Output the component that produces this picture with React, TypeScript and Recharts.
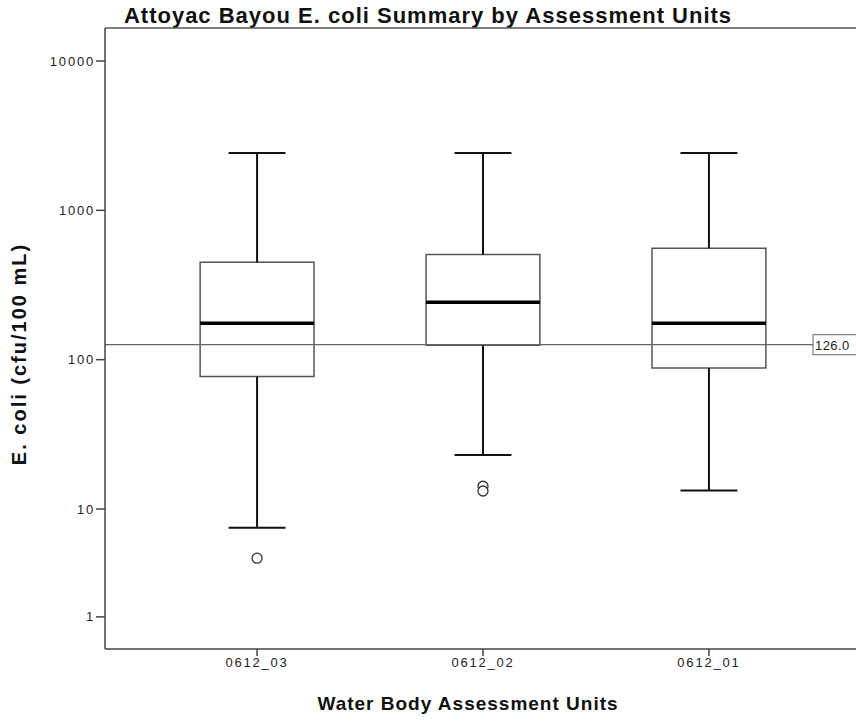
import {
  ComposedChart,
  XAxis,
  YAxis,
  Scatter,
  ReferenceArea,
  ReferenceLine,
} from "recharts";

const categories = ["0612_03", "0612_02", "0612_01"];
const maxVals = [2420, 2420, 2420];
const q3Vals = [449, 507, 557];
const medianVals = [175, 242, 175];
const q1Vals = [77, 125, 88];
const minVals = [6.7, 23, 13.3];
const outlierVals = [[3.5], [14.2, 13.2], []];
const criterion = 126;
const yTickValues = [1, 10, 100, 1000, 10000];

// SPSS safe-log axis: the lowest decade (1..10) is drawn compressed
const LOW_DECADE = 0.7224;
const toAxis = (v: number) =>
  v >= 10 ? Math.log10(v) : 1 - LOW_DECADE * (1 - Math.log10(v));

const yTicks = yTickValues.map(toAxis);
const tickLabel = (t: number) => {
  const i = yTicks.findIndex((y) => Math.abs(y - t) < 1e-6);
  return i >= 0 ? String(yTickValues[i]) : "";
};

const boxes = categories.map((name, i) => ({
  x: i + 1,
  name,
  max: toAxis(maxVals[i]),
  q3: toAxis(q3Vals[i]),
  med: toAxis(medianVals[i]),
  q1: toAxis(q1Vals[i]),
  min: toAxis(minVals[i]),
}));

const outliers = outlierVals.flatMap((vals, i) =>
  vals.map((v) => ({ x: i + 1, y: toAxis(v) }))
);

const BOX_HALF = 0.252;
const CAP_HALF = 0.126;
const FONT = "Arial, 'Liberation Sans', sans-serif";
const tickStyle = { fontSize: 13, fill: "#222", fontFamily: FONT, letterSpacing: 1.8 };

function CriterionLabel(props: any) {
  const { viewBox } = props;
  const x = viewBox.x + viewBox.width - 48;
  const y = viewBox.y;
  return (
    <g>
      <rect x={x} y={y - 10} width={60} height={20} fill="#fff" stroke="#666" />
      <text
        x={x + 2}
        y={y + 5}
        fontSize={13}
        fontFamily={FONT}
        letterSpacing={0.4}
        fill="#222"
      >
        {criterion.toFixed(1)}
      </text>
    </g>
  );
}

function Outlier(props: any) {
  const { cx, cy } = props;
  return <circle cx={cx} cy={cy} r={5} fill="#fff" stroke="#333" strokeWidth={1.3} />;
}

export default function App() {
  return (
    <div
      style={{
        position: "absolute",
        left: 0,
        top: 0,
        width: 856,
        height: 723,
        overflow: "hidden",
        background: "#fff",
        fontFamily: FONT,
      }}
    >
      <div
        style={{
          position: "absolute",
          left: 0,
          top: 3,
          width: 856,
          textAlign: "center",
          fontSize: 22,
          fontWeight: "bold",
          letterSpacing: 1,
          color: "#111",
        }}
      >
        Attoyac Bayou E. coli Summary by Assessment Units
      </div>
      <div
        style={{
          position: "absolute",
          left: 268,
          top: 693,
          width: 400,
          textAlign: "center",
          fontSize: 19,
          fontWeight: "bold",
          letterSpacing: 1,
          color: "#111",
        }}
      >
        Water Body Assessment Units
      </div>
      <div
        style={{
          position: "absolute",
          left: 19,
          top: 354,
          transform: "translate(-50%, -50%) rotate(-90deg)",
          whiteSpace: "nowrap",
          fontSize: 20,
          fontWeight: "bold",
          letterSpacing: 2,
          color: "#111",
        }}
      >
        E. coli (cfu/100 mL)
      </div>
      <ComposedChart
        width={880}
        height={723}
        margin={{ top: 28, right: 19, bottom: 0, left: 45 }}
        style={{ position: "absolute", left: 0, top: 0 }}
      >
        <XAxis
          type="number"
          dataKey="x"
          domain={[0.327, 3.673]}
          ticks={[1, 2, 3]}
          tickFormatter={(v: number) => categories[v - 1] ?? ""}
          allowDataOverflow
          height={74}
          tickSize={7}
          tick={tickStyle}
          axisLine={{ stroke: "#444", strokeWidth: 1.5 }}
          tickLine={{ stroke: "#444", strokeWidth: 1.5 }}
        />
        <YAxis
          type="number"
          dataKey="y"
          domain={[0.0625, 4.221]}
          ticks={yTicks}
          tickFormatter={tickLabel}
          allowDataOverflow
          width={60}
          tickSize={9}
          tickMargin={1}
          tick={tickStyle}
          axisLine={{ stroke: "#444", strokeWidth: 1.5 }}
          tickLine={{ stroke: "#444", strokeWidth: 1.5 }}
        />
        <ReferenceLine y={4.221} stroke="#555" strokeWidth={1.5} ifOverflow="visible" />
        {boxes.map((b) => (
          <ReferenceLine
            key={`wu${b.x}`}
            segment={[{ x: b.x, y: b.q3 }, { x: b.x, y: b.max }]}
            stroke="#111"
            strokeWidth={2}
          />
        ))}
        {boxes.map((b) => (
          <ReferenceLine
            key={`wl${b.x}`}
            segment={[{ x: b.x, y: b.min }, { x: b.x, y: b.q1 }]}
            stroke="#111"
            strokeWidth={2}
          />
        ))}
        {boxes.map((b) => (
          <ReferenceLine
            key={`cu${b.x}`}
            segment={[{ x: b.x - CAP_HALF, y: b.max }, { x: b.x + CAP_HALF, y: b.max }]}
            stroke="#111"
            strokeWidth={2}
          />
        ))}
        {boxes.map((b) => (
          <ReferenceLine
            key={`cl${b.x}`}
            segment={[{ x: b.x - CAP_HALF, y: b.min }, { x: b.x + CAP_HALF, y: b.min }]}
            stroke="#111"
            strokeWidth={2}
          />
        ))}
        {boxes.map((b) => (
          <ReferenceArea
            key={`b${b.x}`}
            x1={b.x - BOX_HALF}
            x2={b.x + BOX_HALF}
            y1={b.q1}
            y2={b.q3}
            fill="#fff"
            fillOpacity={1}
            stroke="#555"
            strokeWidth={1.5}
          />
        ))}
        {boxes.map((b) => (
          <ReferenceLine
            key={`m${b.x}`}
            segment={[{ x: b.x - BOX_HALF, y: b.med }, { x: b.x + BOX_HALF, y: b.med }]}
            stroke="#000"
            strokeWidth={3.5}
          />
        ))}
        <ReferenceLine
          y={toAxis(criterion)}
          stroke="#666"
          strokeWidth={1.3}
          label={<CriterionLabel />}
        />
        <Scatter
          data={outliers}
          dataKey="y"
          shape={<Outlier />}
          isAnimationActive={false}
        />
      </ComposedChart>
    </div>
  );
}
